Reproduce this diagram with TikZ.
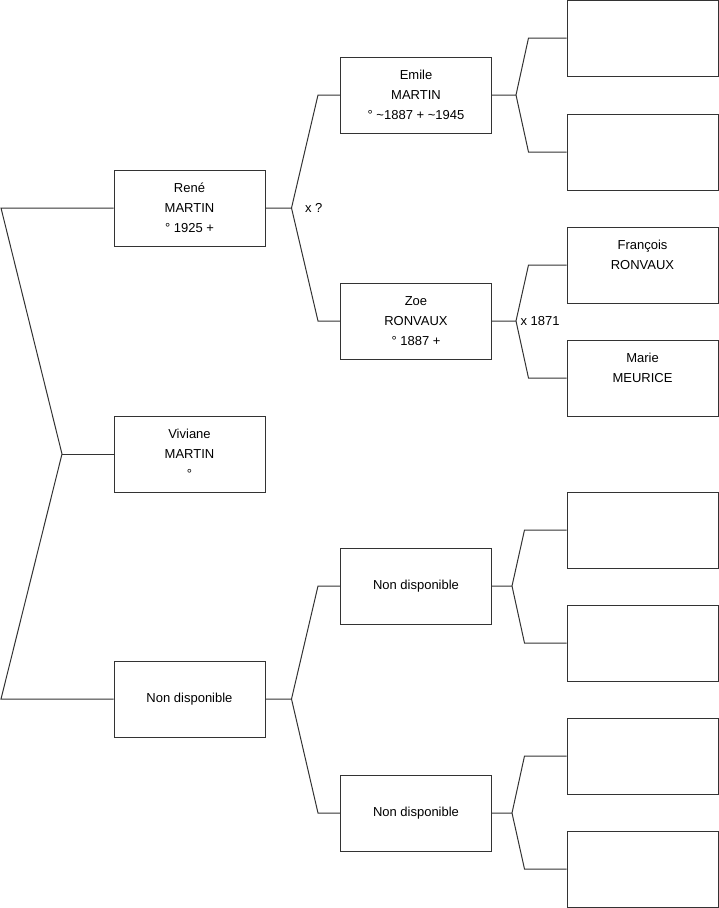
\documentclass[tikz,border=0pt]{standalone}
\usepackage{fontspec}
\setmainfont{Liberation Sans}
\usetikzlibrary{positioning}
\begin{document}
\begin{tikzpicture}[x=1pt,y=-1pt,line width=1pt,
  person/.style={rectangle,draw=black!80,fill=white,minimum width=151pt,minimum height=76pt,inner sep=0pt,align=center,font=\fontsize{13}{20}\selectfont},
  link/.style={draw=black!80},
  lbl/.style={inner sep=0pt,font=\fontsize{13}{20}\selectfont}]
\useasboundingbox (0,0) rectangle (719,908);
% children
\node[person] (rene) at (189.5,208) {René\\MARTIN\\° 1925 +};
\node[person] (viv) at (189.5,454) {Viviane\\MARTIN\\°};
\node[person] (nd1) at (189.5,699) {Non disponible};
% parents
\node[person] (emile) at (416,95) {Emile\\MARTIN\\° \textasciitilde1887 + \textasciitilde1945};
\node[person] (zoe) at (416,321) {Zoe\\RONVAUX\\° 1887 +};
\node[person] (nd2) at (416,586) {Non disponible};
\node[person] (nd3) at (416,813) {Non disponible};
% grandparents
\node[person] (a1) at (642.5,38) {};
\node[person] (a2) at (642.5,152) {};
\node[person] (a3) at (642.5,265) {François\\RONVAUX\\\mbox{}};
\node[person] (a4) at (642.5,378) {Marie\\MEURICE\\\mbox{}};
\node[person] (a5) at (642.5,530) {};
\node[person] (a6) at (642.5,643) {};
\node[person] (a7) at (642.5,756) {};
\node[person] (a8) at (642.5,869) {};
% forks
\coordinate (la) at (1,208);
\coordinate (lb) at (1,699);
\coordinate (f0) at (62,454);
\coordinate (f1) at ([xshift=26pt]rene.east);
\coordinate (f2) at ([xshift=26pt]nd1.east);
\coordinate (f3) at ([xshift=24pt]emile.east);
\coordinate (f4) at ([xshift=24pt]zoe.east);
\coordinate (f5) at ([xshift=20pt]nd2.east);
\coordinate (f6) at ([xshift=20pt]nd3.east);
\draw[link] (rene.west) -- (la) -- (f0) -- (lb) -- (nd1.west);
\draw[link] (f0) -- (viv.west);
\draw[link] (rene.east) -- (f1) -- ([xshift=-22pt]emile.west) -- (emile.west);
\draw[link] (f1) -- ([xshift=-22pt]zoe.west) -- (zoe.west);
\draw[link] (nd1.east) -- (f2) -- ([xshift=-22pt]nd2.west) -- (nd2.west);
\draw[link] (f2) -- ([xshift=-22pt]nd3.west) -- (nd3.west);
\draw[link] (emile.east) -- (f3) -- ([xshift=-38pt]a1.west) -- (a1.west);
\draw[link] (f3) -- ([xshift=-38pt]a2.west) -- (a2.west);
\draw[link] (zoe.east) -- (f4) -- ([xshift=-38pt]a3.west) -- (a3.west);
\draw[link] (f4) -- ([xshift=-38pt]a4.west) -- (a4.west);
\draw[link] (nd2.east) -- (f5) -- ([xshift=-42pt]a5.west) -- (a5.west);
\draw[link] (f5) -- ([xshift=-42pt]a6.west) -- (a6.west);
\draw[link] (nd3.east) -- (f6) -- ([xshift=-42pt]a7.west) -- (a7.west);
\draw[link] (f6) -- ([xshift=-42pt]a8.west) -- (a8.west);
% marriages
\node[lbl,right=13pt of f1] (m1) {x ?};
\node[lbl,right=4pt of f4] (m2) {x 1871};
\end{tikzpicture}
\end{document}
